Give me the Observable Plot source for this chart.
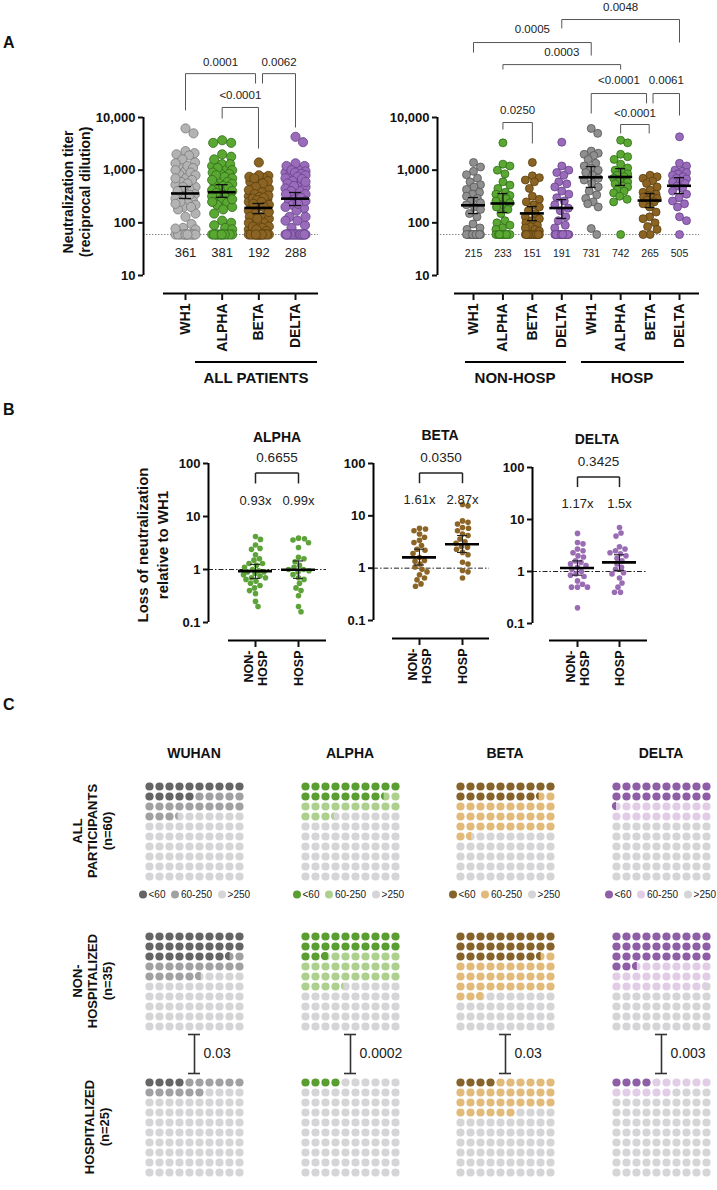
<!DOCTYPE html>
<html>
<head>
<meta charset="utf-8">
<script src="https://cdn.jsdelivr.net/npm/d3@7"></script>
<script src="https://cdn.jsdelivr.net/npm/@observablehq/plot@0.6"></script>
<style>
html,body{margin:0;padding:0;background:#fff;}
#fig{position:relative;width:717px;height:1190px;overflow:hidden;font-family:"Liberation Sans",Arial,Helvetica,sans-serif;color:#111;background:#fff;}
.t{position:absolute;white-space:pre;}
.hl{position:absolute;height:2px;background:#000;}
.leg{position:absolute;display:flex;align-items:center;font-size:10px;color:#222;transform:translate(0,-50%);white-space:nowrap;}
.leg .d{display:inline-block;width:8px;height:8px;border-radius:50%;margin-right:1.5px;}
.leg .l{margin-right:6px;}
.leg .l:last-child{margin-right:0;}
</style>
</head>
<body>
<div id="fig"></div>
<script>
// ================= DATA =================
// Panel A – neutralization titers (reciprocal dilution)
const variantsA = ["WH1", "ALPHA", "BETA", "DELTA"];
const wh1NonHosp   = [1400,1150,950,820,700,600,530,480,430,380,350,320,290,260,240,220,200,180,150,130,95,80,75,60,60,60,60,60,60,60,60,60,60,60,60];
const alphaNonHosp = [3300,1300,1200,1000,850,600,520,450,380,350,330,310,290,260,240,220,200,180,150,110,100,90,80,75,60,60,60,60,60,60,60,60,60,60,60];
const betaNonHosp  = [1400,780,720,650,600,450,320,280,250,220,200,170,150,130,120,110,100,90,85,80,75,70,60,60,60,60,60,60,60,60,60,60,60,60,60];
const deltaNonHosp = [3400,1200,1000,900,800,600,550,480,400,350,300,260,220,190,170,130,110,90,80,60,60,60,60,60,60,60,60,60,60,60,60,60,60,60,60];
const wh1Hosp      = [6200,5000,2300,2100,2000,1900,1600,1350,1200,1100,1000,900,800,700,650,560,480,400,340,290,250,230,200,78,60];
const alphaHosp    = [3700,3300,2000,1800,1600,1300,1100,1000,900,850,800,750,700,650,600,550,500,480,420,400,370,320,280,250,60];
const betaHosp     = [800,750,700,620,560,480,420,380,350,330,310,300,290,270,250,230,200,160,130,120,100,85,75,60,60];
const deltaHosp    = [4300,1350,1200,1000,950,900,850,800,750,700,680,620,600,560,500,450,400,350,300,260,230,200,130,110,60];

const gmtAll = [361, 381, 192, 288];
const ciAllLow = [290, 305, 150, 213];
const ciAllHigh = [490, 530, 233, 377];
const gmtNonHosp = [215, 233, 151, 191];
const ciNonLow = [150, 157, 110, 121];
const ciNonHigh = [302, 360, 204, 276];
const gmtHosp = [731, 742, 265, 505];
const ciHospLow = [470, 513, 195, 360];
const ciHospHigh = [1170, 1070, 360, 720];

// significance brackets: from category a to b (index), bracket level and leg ends in titer units
const bracketsAllPatients = [
  {a: 0, b: 1.91, level: 68000, ya: 13600, yb: 44200, ty: 110000, label: "0.0001"},
  {a: 2.1, b: 3, level: 68000, ya: 44200, yb: 6460, ty: 110000, label: "0.0062"},
  {a: 1, b: 1.99, level: 15500, ya: 9560, yb: 2570, ty: 26200, label: "<0.0001"}
];
const bracketsByGroup = [
  {a: 3, b: 7, level: 725000, ya: 490000, yb: 265000, ty: 1220000, label: "0.0048"},
  {a: 0, b: 4, level: 265000, ya: 171000, yb: 150000, ty: 468000, label: "0.0005"},
  {a: 1, b: 5, level: 101000, ya: 81500, yb: 81500, ty: 171000, label: "0.0003"},
  {a: 4, b: 5.88, level: 28500, ya: 11900, yb: 18500, ty: 50300, label: "<0.0001"},
  {a: 6.1, b: 7, level: 28500, ya: 18500, yb: 10900, ty: 50300, label: "0.0061"},
  {a: 5, b: 5.97, level: 7360, ya: 4970, yb: 4970, ty: 11900, label: "<0.0001"},
  {a: 1, b: 2, level: 8030, ya: 5910, yb: 3210, ty: 13600, label: "0.0250"}
];

// Panel B – fold loss of neutralization relative to WH1
const groupsB = ["NON-\nHOSP", "HOSP"];
const alphaFoldNonHosp = [4.2,3.7,2.9,2.5,2.4,1.9,1.6,1.5,1.3,1.3,1.2,1.1,1.0,0.95,0.9,0.9,0.85,0.8,0.75,0.7,0.7,0.65,0.6,0.55,0.5,0.45,0.4,0.35,0.25,0.2];
const alphaFoldHosp    = [3.9,3.8,3.6,3.2,2.6,1.7,1.6,1.4,1.2,1.1,1.0,1.0,0.95,0.9,0.8,0.7,0.65,0.55,0.45,0.4,0.32,0.2,0.16];
const betaFoldNonHosp  = [5.8,5.6,5.2,4.5,3.9,3.4,3.1,2.7,2.3,2.2,1.9,1.6,1.4,1.35,1.2,1.05,0.95,0.85,0.75,0.65,0.6,0.5,0.45];
const betaFoldHosp     = [16.5,15.5,8,7.5,7,6,5.8,5.2,4.5,4.2,3.6,3.2,3.0,2.6,2.5,2.3,2.0,1.8,1.3,1.2,0.9,0.85,0.65];
const deltaFoldNonHosp = [5.4,3.6,3.4,2.7,2.5,2.3,2.0,1.9,1.6,1.5,1.4,1.3,1.2,1.1,1.0,0.9,0.85,0.8,0.66,0.57,0.5,0.5,0.5,0.2];
const deltaFoldHosp    = [7,5.5,4.8,3.0,2.7,2.5,2.3,2.2,2.0,1.8,1.6,1.4,1.2,1.1,0.95,0.9,0.75,0.6,0.5,0.4,0.4];
const foldMean = {ALPHA: [0.93, 0.99], BETA: [1.61, 2.87], DELTA: [1.17, 1.5]};
const foldCiLow = {ALPHA: [0.68, 0.68], BETA: [1.15, 2.0], DELTA: [0.85, 1.05]};
const foldCiHigh = {ALPHA: [1.25, 1.45], BETA: [2.3, 4.2], DELTA: [1.6, 2.1]};
const pValuesB = {ALPHA: "0.6655", BETA: "0.0350", DELTA: "0.3425"};

// Panel C – percentage of participants by titer class (<60, 60-250, >250)
const variantsC = ["WUHAN", "ALPHA", "BETA", "DELTA"];
const groupsC = ["ALL\nPARTICIPANTS\n(n=60)", "NON-\nHOSPITALIZED\n(n=35)", "HOSPITALIZED\n(n=25)"];
const pctBelow60 = [[15, 28.57, 4], [18.33, 22.86, 4], [18.33, 28.57, 4], [20.5, 32.6, 4]];
const pct60to250 = [[18.33, 17.14, 12], [15, 31.43, 0], [33.33, 34.29, 32], [19.5, 26.9, 12]];
const pValuesC = ["0.03", "0.0002", "0.03", "0.003"];
const legendC = ["<60", "60-250", ">250"];

// colours
const fillA = ["#b3b3b3", "#5aa732", "#8b6423", "#9a6bbb"];
const fillA2 = ["#8f8f8f", "#5aa732", "#8b6423", "#9a6bbb"];
const strokeA = ["#7a7a7a", "#2f6c1a", "#5b3f0f", "#654189"];
const strokeA2 = ["#555555", "#2f6c1a", "#5b3f0f", "#654189"];
const colorB = {ALPHA: "#5ea33a", BETA: "#8c6526", DELTA: "#9a6cb4"};
const cDark = ["#656565", "#5a9e32", "#86632a", "#8e5fa6"];
const cMid = ["#a1a1a3", "#aed08f", "#e2bb7b", "#e2cde6"];
const cLight = "#d5d5d7";

// ================= HELPERS =================
const FONT = '"Liberation Sans", Arial, Helvetica, sans-serif';
const fig = document.getElementById("fig");
const baseStyle = {fontFamily: FONT, fontSize: "13px", color: "#111", background: "transparent", overflow: "visible"};

function txt(s, x, y, o = {}) {
  const d = document.createElement("div");
  d.className = "t";
  d.textContent = s;
  d.style.left = x + "px";
  d.style.top = y + "px";
  d.style.fontSize = (o.size || 13) + "px";
  d.style.fontWeight = o.bold ? "bold" : "normal";
  d.style.lineHeight = o.lh ? o.lh + "px" : "1.15";
  d.style.textAlign = "center";
  d.style.color = o.color || "#111";
  const ax = o.anchor === "start" ? "0" : o.anchor === "end" ? "-100%" : "-50%";
  d.style.transform = `translate(${ax},-50%)` + (o.rotate ? ` rotate(${o.rotate}deg)` : "");
  fig.appendChild(d);
}
function hline(x1, x2, y) {
  const d = document.createElement("div");
  d.className = "hl";
  d.style.left = x1 + "px"; d.style.width = (x2 - x1) + "px"; d.style.top = (y - 1) + "px";
  fig.appendChild(d);
}
function place(node, left, top) {
  node.style.position = "absolute";
  node.style.left = left + "px";
  node.style.top = top + "px";
  fig.appendChild(node);
}
// constrained beeswarm: pixel offsets for values (limited width, overlap allowed)
function swarm(values, ypx, r, maxOff) {
  const pts = values.map(v => ({v, y: ypx(v), off: 0}));
  const order = pts.slice().sort((a, b) => a.y - b.y);
  const cands = [];
  for (let c = 0; c <= maxOff + 1e-9; c += 0.5) { cands.push(c); if (c > 0) cands.push(-c); }
  const placed = [];
  for (const p of order) {
    let best = 0, bestD = -1;
    for (const c of cands) {
      let minD = Infinity;
      for (const q of placed) {
        const dy = q.y - p.y;
        if (Math.abs(dy) >= 2 * r) continue;
        const dd = Math.hypot(q.off - c, dy);
        if (dd < minD) minD = dd;
      }
      if (minD >= 2 * r) { best = c; bestD = Infinity; break; }
      if (minD > bestD) { bestD = minD; best = c; }
    }
    p.off = best;
    placed.push(p);
  }
  return pts.map(p => p.off);
}
function bracketSegs(brs) {
  return brs.flatMap(b => [
    {x1: b.a, y1: b.level, x2: b.b, y2: b.level},
    {x1: b.a, y1: b.level, x2: b.a, y2: b.ya},
    {x1: b.b, y1: b.level, x2: b.b, y2: b.yb}
  ]);
}

// ================= PANEL A =================
function titerPanel(c) {
  const toX = px => (px - c.cat0) / c.step;
  const x0 = toX(c.axisPx), x1 = toX(c.rightPx), xs = toX(c.lineStartPx);
  const yPx = d3.scaleLog([10, 10000], [c.yBottom, c.yTop]);
  const dots = c.groups.flatMap((vals, i) => {
    const offs = swarm(vals, yPx, c.r, c.maxOff);
    return vals.map((v, j) => ({x: i + offs[j] / c.step, y: v, fill: c.fills[i], stroke: c.strokes[i]}));
  });
  const stats = c.means.map((m, i) => ({i, m, lo: c.lo[i], hi: c.hi[i]}));
  const capU = c.capHalf / c.step, meanU = c.meanHalf / c.step;
  const plot = Plot.plot({
    width: c.width, height: c.height,
    marginLeft: c.axisPx, marginRight: c.width - c.rightPx, marginTop: c.yTop, marginBottom: c.height - c.xAxisPx,
    style: baseStyle,
    x: {domain: [x0, x1], axis: null},
    y: {type: "log", domain: [10, 10000], range: [c.yBottom, c.yTop], axis: null},
    color: {type: "identity"},
    marks: [
      Plot.ruleY([60], {x1: () => x0, x2: () => x1, stroke: "#8a8a8a", strokeWidth: 1, strokeDasharray: "1.5,1.5"}),
      Plot.dot(dots, {x: "x", y: "y", r: c.r, fill: "fill", stroke: "stroke", strokeWidth: 0.8}),
      Plot.ruleX(stats, {x: "i", y1: "lo", y2: "hi", stroke: "#111", strokeWidth: 1.3}),
      Plot.ruleY(stats, {y: "lo", x1: d => d.i - capU, x2: d => d.i + capU, stroke: "#111", strokeWidth: 1.3}),
      Plot.ruleY(stats, {y: "hi", x1: d => d.i - capU, x2: d => d.i + capU, stroke: "#111", strokeWidth: 1.3}),
      Plot.ruleY(stats, {y: "m", x1: d => d.i - meanU, x2: d => d.i + meanU, stroke: "#000", strokeWidth: 2.6}),
      Plot.text(stats, {x: "i", y: () => yPx.invert(c.valuePx), text: d => String(d.m), fontSize: c.valueSize, fill: "#222"}),
      Plot.link(bracketSegs(c.brackets), {x1: "x1", y1: "y1", x2: "x2", y2: "y2", stroke: "#555", strokeWidth: 1}),
      Plot.text(c.brackets, {x: d => (d.a + d.b) / 2, y: "ty", text: "label", fontSize: 11.5, fill: "#222"}),
      Plot.ruleX([x0], {y1: () => 10, y2: () => 10000, stroke: "#000", strokeWidth: 2}),
      Plot.ruleY([yPx.invert(c.xAxisPx)], {x1: () => xs, x2: () => x1, stroke: "#000", strokeWidth: 2}),
      Plot.axisY({ticks: [10, 100, 1000, 10000], tickFormat: d3.format(","), tickSize: 5, tickPadding: 3, strokeWidth: 2, fontWeight: "bold", fontSize: 13, label: null}),
      Plot.axisX({ticks: d3.range(c.labels.length), tickFormat: i => c.labels[i], tickRotate: -90, tickSize: 7, tickPadding: 3, strokeWidth: 2, fontWeight: "bold", fontSize: 14, label: null})
    ]
  });
  place(plot, c.left, 0);
}

titerPanel({
  left: 0, width: 340, height: 360, axisPx: 143, cat0: 185, step: 36.67, rightPx: 318, lineStartPx: 163,
  xAxisPx: 293, yTop: 117, yBottom: 275, labels: variantsA,
  groups: [wh1NonHosp.concat(wh1Hosp), alphaNonHosp.concat(alphaHosp), betaNonHosp.concat(betaHosp), deltaNonHosp.concat(deltaHosp)],
  means: gmtAll, lo: ciAllLow, hi: ciAllHigh, fills: fillA, strokes: strokeA,
  r: 4.6, maxOff: 10, meanHalf: 14, capHalf: 6, valuePx: 252, valueSize: 13, brackets: bracketsAllPatients
});
titerPanel({
  left: 340, width: 377, height: 360, axisPx: 97, cat0: 133, step: 29.43, rightPx: 359, lineStartPx: 114,
  xAxisPx: 293, yTop: 117, yBottom: 275, labels: variantsA.concat(variantsA),
  groups: [wh1NonHosp, alphaNonHosp, betaNonHosp, deltaNonHosp, wh1Hosp, alphaHosp, betaHosp, deltaHosp],
  means: gmtNonHosp.concat(gmtHosp), lo: ciNonLow.concat(ciHospLow), hi: ciNonHigh.concat(ciHospHigh),
  fills: fillA2.concat(fillA2), strokes: strokeA2.concat(strokeA2),
  r: 4.0, maxOff: 7, meanHalf: 12, capHalf: 5, valuePx: 253, valueSize: 10.5, brackets: bracketsByGroup
});

txt("A", 3, 43, {size: 16, bold: true, anchor: "start"});
txt("Neutralization titer\n(reciprocal dilution)", 77, 192, {size: 14, bold: true, rotate: -90, lh: 17});
hline(195, 317, 362);
txt("ALL PATIENTS", 256, 378, {size: 15, bold: true});
hline(465, 566, 362);
txt("NON-HOSP", 515, 378, {size: 15, bold: true});
hline(581, 684, 362);
txt("HOSP", 632, 378, {size: 15, bold: true});

// ================= PANEL B =================
function foldPanel(c) {
  const v = c.variant;
  const toX = px => (px - c.cat0) / c.step;
  const x0 = toX(c.axisPx), x1 = toX(c.rightPx), xs = toX(c.lineStartPx);
  const yPx = d3.scaleLog([0.1, 100], [c.yBottom, c.yTop]);
  const dots = c.groups.flatMap((vals, i) => {
    const offs = swarm(vals, yPx, 2.8, 12);
    return vals.map((val, j) => ({x: i + offs[j] / c.step, y: val}));
  });
  const stats = foldMean[v].map((m, i) => ({i, m, lo: foldCiLow[v][i], hi: foldCiHigh[v][i]}));
  const capU = 5 / c.step, meanU = 17 / c.step;
  const br = [{a: 0, b: 1, level: 66, ya: 42, yb: 42, ty: 128, label: pValuesB[v]}];
  const plot = Plot.plot({
    width: c.width, height: c.height,
    marginLeft: c.axisPx, marginRight: c.width - c.rightPx, marginTop: c.yTop, marginBottom: c.height - c.xAxisPx,
    style: baseStyle,
    x: {domain: [x0, x1], axis: null},
    y: {type: "log", domain: [0.1, 100], range: [c.yBottom, c.yTop], axis: null},
    marks: [
      Plot.ruleY([1], {x1: () => x0, x2: () => x1, stroke: "#222", strokeWidth: 1, strokeDasharray: "5,2,1.5,2"}),
      Plot.dot(dots, {x: "x", y: "y", r: 2.8, fill: colorB[v]}),
      Plot.ruleX(stats, {x: "i", y1: "lo", y2: "hi", stroke: "#222", strokeWidth: 1.1}),
      Plot.ruleY(stats, {y: "lo", x1: d => d.i - capU, x2: d => d.i + capU, stroke: "#222", strokeWidth: 1.1}),
      Plot.ruleY(stats, {y: "hi", x1: d => d.i - capU, x2: d => d.i + capU, stroke: "#222", strokeWidth: 1.1}),
      Plot.ruleY(stats, {y: "m", x1: d => d.i - meanU, x2: d => d.i + meanU, stroke: "#000", strokeWidth: 2.6}),
      Plot.text(stats, {x: "i", y: () => 20, text: d => d.m + "x", fontSize: 13, fill: "#222"}),
      Plot.link(bracketSegs(br), {x1: "x1", y1: "y1", x2: "x2", y2: "y2", stroke: "#222", strokeWidth: 1.5}),
      Plot.text(br, {x: d => (d.a + d.b) / 2, y: "ty", text: "label", fontSize: 13.5, fill: "#222"}),
      Plot.ruleX([x0], {y1: () => 0.1, y2: () => 100, stroke: "#000", strokeWidth: 2}),
      Plot.ruleY([yPx.invert(c.xAxisPx)], {x1: () => xs, x2: () => x1, stroke: "#000", strokeWidth: 2}),
      Plot.axisY({ticks: [0.1, 1, 10, 100], tickFormat: d => String(d), tickSize: 5, tickPadding: 3, strokeWidth: 2, fontWeight: "bold", fontSize: 13, label: null}),
      Plot.axisX({ticks: [0, 1], tickFormat: i => groupsB[i], tickRotate: -90, tickSize: 7, tickPadding: 3, strokeWidth: 2, fontWeight: "bold", fontSize: 12.5, lineHeight: 1.15, label: null})
    ]
  });
  place(plot, c.left, 400);
}
foldPanel({variant: "ALPHA", groups: [alphaFoldNonHosp, alphaFoldHosp], left: 100, width: 240, height: 300,
  axisPx: 108, cat0: 155, step: 43, rightPx: 226, lineStartPx: 128, xAxisPx: 240, yTop: 63, yBottom: 222});
foldPanel({variant: "BETA", groups: [betaFoldNonHosp, betaFoldHosp], left: 340, width: 160, height: 300,
  axisPx: 33, cat0: 79, step: 43, rightPx: 149, lineStartPx: 52, xAxisPx: 238, yTop: 63, yBottom: 220});
foldPanel({variant: "DELTA", groups: [deltaFoldNonHosp, deltaFoldHosp], left: 500, width: 217, height: 300,
  axisPx: 32, cat0: 77, step: 42, rightPx: 147, lineStartPx: 49, xAxisPx: 240, yTop: 67, yBottom: 223});

txt("B", 3, 410, {size: 16, bold: true, anchor: "start"});
txt("ALPHA", 277, 437, {size: 14, bold: true});
txt("BETA", 440, 435, {size: 14, bold: true});
txt("DELTA", 597, 439, {size: 14, bold: true});
txt("Loss of neutralization\nrelative to WH1", 153, 545, {size: 15, bold: true, rotate: -90, lh: 20});

// ================= PANEL C =================
const gridCenter0 = [149, 305, 460, 616];   // x of first dot column per variant
const gridRow0 = [786, 936, 1082];          // y of first dot row per group
const legendStart = [139, 293, 449, 605];   // left edge of each legend
function waffle(vi, gi) {
  const low = pctBelow60[vi][gi], mid = pct60to250[vi][gi];
  const colors = [cDark[vi], cMid[vi], cLight];
  const bounds = [low, low + mid];
  const full = [], segs = [];
  const R = 0.41;
  for (let k = 0; k < 100; k++) {
    const row = Math.floor(k / 10), col = k % 10;
    const cat = k + 1 <= bounds[0] + 1e-6 ? 0 : k + 1 <= bounds[1] + 1e-6 ? 1 : 2;
    full.push({col, row, color: colors[cat]});
    for (let b = 1; b >= 0; b--) {
      const cb = bounds[b];
      if (cb > k + 1e-6 && cb < k + 1 - 1e-6) {
        const f = cb - k, phiMax = Math.acos(1 - 2 * f), id = k * 2 + b;
        for (let t = 0; t <= 16; t++) {
          const phi = phiMax * t / 16;
          segs.push({x: col - R * Math.cos(phi), y1: row - R * Math.sin(phi), y2: row + R * Math.sin(phi), id, color: colors[b]});
        }
      }
    }
  }
  const withBracket = gi === 2;
  const mt = withBracket ? 57 : 5;
  const br = withBracket ? [{x: 4.5, top: -4.8, bottom: -0.9, label: pValuesC[vi]}] : [];
  const plot = Plot.plot({
    width: 120, height: mt + 95, margin: 0,
    style: baseStyle,
    x: {domain: [0, 9], range: [5, 95], axis: null},
    y: {domain: [0, 9], range: [mt, mt + 90], axis: null},
    color: {type: "identity"},
    marks: [
      Plot.dot(full, {x: "col", y: "row", r: 4.1, fill: "color"}),
      Plot.areaY(segs, {x: "x", y1: "y1", y2: "y2", z: "id", fill: "color", curve: "linear"}),
      Plot.ruleX(br, {x: "x", y1: "top", y2: "bottom", stroke: "#333", strokeWidth: 1.6}),
      Plot.ruleY(br, {y: "top", x1: d => d.x - 0.6, x2: d => d.x + 0.6, stroke: "#333", strokeWidth: 1.6}),
      Plot.ruleY(br, {y: "bottom", x1: d => d.x - 0.6, x2: d => d.x + 0.6, stroke: "#333", strokeWidth: 1.6}),
      Plot.text(br, {x: "x", y: d => (d.top + d.bottom) / 2, text: "label", dx: 9, textAnchor: "start", fontSize: 14, fill: "#222"})
    ]
  });
  place(plot, gridCenter0[vi] - 5, gridRow0[gi] - mt);
}
variantsC.forEach((v, vi) => {
  groupsC.forEach((g, gi) => waffle(vi, gi));
  txt(v, gridCenter0[vi] + 45, 753, {size: 14, bold: true});
  // legend
  const leg = document.createElement("div");
  leg.className = "leg";
  leg.style.left = legendStart[vi] + "px";
  leg.style.top = "894px";
  const cols = [cDark[vi], cMid[vi], cLight];
  legendC.forEach((lab, k) => {
    const dot = document.createElement("span"); dot.className = "d"; dot.style.background = cols[k];
    const l = document.createElement("span"); l.className = "l"; l.textContent = lab;
    leg.appendChild(dot); leg.appendChild(l);
  });
  fig.appendChild(leg);
});
txt("C", 3, 705, {size: 16, bold: true, anchor: "start"});
txt(groupsC[0], 92, 831, {size: 13, bold: true, rotate: -90, lh: 15});
txt(groupsC[1], 92, 981, {size: 13, bold: true, rotate: -90, lh: 15});
txt(groupsC[2], 97, 1127, {size: 13, bold: true, rotate: -90, lh: 15});
</script>
</body>
</html>
